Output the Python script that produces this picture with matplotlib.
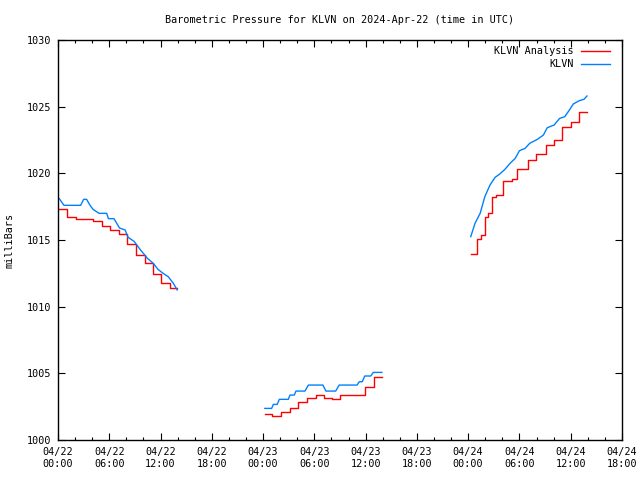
import numpy as np
import matplotlib

matplotlib.use('Agg')
import matplotlib.pyplot as plt

# Heures depuis 2024-04-22 00:00 UTC
BLEU_T1 = [0.15, 0.7, 2.65, 3.0, 3.35, 3.75, 4.1, 4.8, 5.7, 5.9, 6.55, 7.2, 7.85, 8.2,
           8.9, 9.6, 10.5, 11.15, 11.7, 12.3, 12.9, 13.5, 13.95]
BLEU_V1 = [1018.1, 1017.6, 1017.6, 1018.05, 1018.05, 1017.6, 1017.3, 1017.0, 1017.0,
           1016.6, 1016.6, 1015.9, 1015.75, 1015.2, 1014.9, 1014.3, 1013.6, 1013.25,
           1012.8, 1012.5, 1012.25, 1011.75, 1011.25]
BLEU_T2 = [24.2, 25.0, 25.2, 25.65, 25.9, 26.95, 27.15, 27.65, 27.85, 28.9, 29.3, 31.0,
           31.35, 32.5, 32.9, 35.0, 35.25, 35.6, 35.9, 36.6, 36.9, 37.9]
BLEU_V2 = [1002.37, 1002.37, 1002.67, 1002.67, 1003.05, 1003.05, 1003.37, 1003.37,
           1003.67, 1003.67, 1004.12, 1004.12, 1003.67, 1003.67, 1004.12, 1004.12,
           1004.37, 1004.37, 1004.8, 1004.8, 1005.07, 1005.07]
BLEU_T3 = [48.3, 48.8, 49.4, 49.95, 50.55, 51.15, 51.7, 52.3, 52.9, 53.5, 54.0, 54.65,
           55.2, 56.1, 56.8, 57.25, 58.05, 58.7, 59.3, 59.9, 60.3, 61.0, 61.55, 61.9]
BLEU_V3 = [1015.25, 1016.25, 1017.0, 1018.25, 1019.12, 1019.7, 1019.95, 1020.3, 1020.75,
           1021.12, 1021.7, 1021.87, 1022.25, 1022.55, 1022.87, 1023.42, 1023.62,
           1024.12, 1024.25, 1024.8, 1025.2, 1025.45, 1025.55, 1025.8]

# Analyse (en escalier)
ROUGE_T1 = [0.15, 1.1, 2.1, 4.1, 5.2, 6.05, 7.15, 8.1, 9.15, 10.15, 11.1, 12.05, 13.05, 13.95]
ROUGE_V1 = [1017.3, 1016.7, 1016.55, 1016.45, 1016.05, 1015.75, 1015.45, 1014.7, 1013.9,
            1013.3, 1012.45, 1011.8, 1011.4, 1011.4]
ROUGE_T2 = [24.2, 25.1, 26.1, 27.1, 28.05, 29.15, 30.15, 31.1, 32.1, 33.05, 35.9, 36.95, 37.9]
ROUGE_V2 = [1001.95, 1001.8, 1002.07, 1002.37, 1002.82, 1003.12, 1003.37, 1003.12,
            1003.05, 1003.37, 1003.95, 1004.7, 1004.7]
ROUGE_T3 = [48.3, 49.0, 49.45, 50.0, 50.3, 50.8, 51.2, 52.05, 53.1, 53.7, 55.0, 55.95,
            57.1, 58.0, 59.0, 60.0, 61.0, 61.9]
ROUGE_V3 = [1013.95, 1015.05, 1015.37, 1016.7, 1017.05, 1018.25, 1018.37, 1019.45,
            1019.6, 1020.3, 1021.0, 1021.45, 1022.1, 1022.47, 1023.45, 1023.82,
            1024.57, 1024.57]

TICKS_X = [0, 6, 12, 18, 24, 30, 36, 42, 48, 54, 60, 66]
LABELS_X = ["04/22\n00:00", "04/22\n06:00", "04/22\n12:00", "04/22\n18:00",
            "04/23\n00:00", "04/23\n06:00", "04/23\n12:00", "04/23\n18:00",
            "04/24\n00:00", "04/24\n06:00", "04/24\n12:00", "04/24\n18:00"]
TICKS_Y = [1000, 1005, 1010, 1015, 1020, 1025, 1030]


def joindre(*segments):
    """Concatene des segments en les separant par NaN"""
    t_out, v_out = [], []
    for t, v in segments:
        t_out += list(t) + [np.nan]
        v_out += list(v) + [np.nan]
    return np.array(t_out[:-1]), np.array(v_out[:-1])


plt.rcParams['font.family'] = 'DejaVu Sans Mono'
plt.rcParams['font.size'] = 7.3

fig = plt.figure(figsize=(6.4, 4.8), dpi=100)
ax = fig.add_axes([58 / 640, 40 / 480, 564 / 640, 400 / 480])

rt, rv = joindre((ROUGE_T1, ROUGE_V1), (ROUGE_T2, ROUGE_V2), (ROUGE_T3, ROUGE_V3))
bt, bv = joindre((BLEU_T1, BLEU_V1), (BLEU_T2, BLEU_V2), (BLEU_T3, BLEU_V3))

ax.plot(rt, rv, drawstyle='steps-post', color='#ff0000', linewidth=1.0, label='KLVN Analysis')
ax.plot(bt, bv, color='#0080ff', linewidth=1.0, label='KLVN')

ax.set_xlim(0, 66)
ax.set_ylim(1000, 1030)
ax.set_xticks(TICKS_X)
ax.set_xticklabels(LABELS_X, linespacing=1.25)
ax.set_xticks(np.arange(0, 67, 2), minor=True)
ax.set_yticks(TICKS_Y)
ax.tick_params(which='both', direction='in', top=True, right=True, colors='black')
ax.tick_params(which='major', length=5, width=0.8, pad=5)
ax.tick_params(which='minor', length=2.5, width=0.8)
for s in ax.spines.values():
    s.set_linewidth(1.0)

ax.legend(loc='upper right', bbox_to_anchor=(0.9858, 0.995), frameon=False, markerfirst=False,
          handlelength=2.9, handletextpad=0.7, labelspacing=0.3, borderaxespad=0.0,
          fontsize=7.3)

fig.text(340 / 640, 1 - 20 / 480, 'Barometric Pressure for KLVN on 2024-Apr-22 (time in UTC)',
         ha='center', va='center')
fig.text(10 / 640, 0.5, 'milliBars', rotation=90, ha='center', va='center')

fig.savefig('out.png', dpi=100)
